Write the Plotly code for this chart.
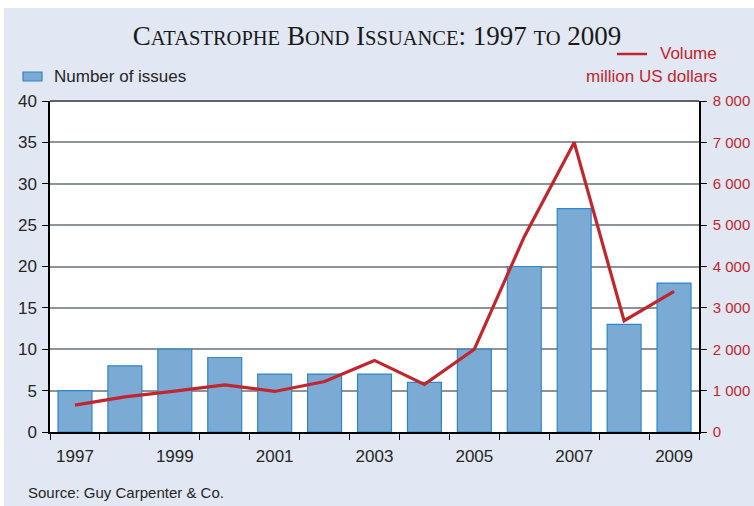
import plotly.graph_objects as go

years = [1997, 1998, 1999, 2000, 2001, 2002, 2003, 2004, 2005, 2006, 2007, 2008, 2009]
issues = [5, 8, 10, 9, 7, 7, 7, 6, 10, 20, 27, 13, 18]
volume = [650, 850, 990, 1140, 980, 1220, 1730, 1150, 2000, 4720, 7000, 2690, 3400]
label_years = years[::2]
left_ticks = [0, 5, 10, 15, 20, 25, 30, 35, 40]
right_ticks = [0, 1000, 2000, 3000, 4000, 5000, 6000, 7000, 8000]

RED = "#C0272D"
BLUE_FILL = "#7BAAD4"
BLUE_LINE = "#2F86C6"
BG = "#E1E8F3"
TXT = "#262626"
FONT = "Liberation Sans, Arial, sans-serif"

W, H = 754, 506
L, R, T, B = 50, 55, 101, 74
pw, ph = W - L - R, H - T - B

def px(x):
    return (x - L) / pw

def py(y):
    return (H - B - y) / ph

fig = go.Figure()
fig.add_trace(go.Bar(x=years, y=issues, marker=dict(color=BLUE_FILL, line=dict(color=BLUE_LINE, width=1.2)),
                     xaxis="x", yaxis="y", name="Number of issues"))
fig.add_trace(go.Scatter(x=years, y=volume, mode="lines", line=dict(color=RED, width=3.2),
                         xaxis="x2", yaxis="y2", name="Volume"))

xr = [years[0] - 0.5, years[-1] + 0.5]
bounds = [y - 0.5 for y in years] + [years[-1] + 0.5]

sc = "font-size:20.5px"
title = (f"C<span style='{sc}'>ATASTROPHE</span> B<span style='{sc}'>OND</span> "
         f"I<span style='{sc}'>SSUANCE</span>: 1997 <span style='{sc}'>TO</span> 2009")

fig.update_layout(
    width=W, height=H,
    margin=dict(l=L, r=R, t=T, b=B, autoexpand=False),
    paper_bgcolor=BG, plot_bgcolor="white",
    showlegend=False,
    bargap=0.32,
    separators=". ",
    font=dict(family=FONT, size=17, color=TXT),
    title=dict(text=title, x=0.5, xref="container", xanchor="center",
               y=1 - 36 / H, yref="container", yanchor="middle",
               font=dict(family="Liberation Serif, Times New Roman, serif", size=27, color="#1a1a1a")),
    xaxis=dict(range=xr, tickvals=bounds, showticklabels=False, ticks="outside", ticklen=6,
               tickcolor="black", tickwidth=1.2, showgrid=False, showline=True, linecolor="black",
               linewidth=1.5, zeroline=False, automargin=False),
    xaxis2=dict(range=xr, overlaying="x", anchor="y2", side="bottom", tickvals=label_years,
                ticks="", showgrid=False, showline=False, zeroline=False, automargin=False,
                ticklabelstandoff=12, tickfont=dict(size=17, color=TXT)),
    yaxis=dict(range=[0, 40], tickvals=left_ticks, ticks="outside", ticklen=6, tickcolor="black",
               tickwidth=1.2, showline=True, linecolor="black", linewidth=1.5, automargin=False,
               gridcolor="#8E9399", gridwidth=1.5, zeroline=False, ticklabelstandoff=2,
               tickfont=dict(size=17, color=TXT)),
    yaxis2=dict(range=[0, 8000], tickvals=right_ticks, tickformat=",", overlaying="y", side="right",
                anchor="x2", ticks="outside", ticklen=6, tickcolor="black", tickwidth=1.2,
                showline=True, linecolor="black", linewidth=1.5, showgrid=False, zeroline=False,
                automargin=False, ticklabelstandoff=3, tickfont=dict(size=15, color=RED)),
)

shapes = [
    # white margin strips outside the blue panel
    dict(type="rect", xref="paper", yref="paper", x0=px(-5), x1=px(W + 5), y0=py(8), y1=py(-5),
         fillcolor="white", line=dict(width=0), layer="below"),
    dict(type="rect", xref="paper", yref="paper", x0=px(-5), x1=px(4), y0=py(-5), y1=py(H + 5),
         fillcolor="white", line=dict(width=0), layer="below"),
    # top border of plot area
    dict(type="line", xref="paper", yref="paper", x0=0, x1=1, y0=1, y1=1,
         line=dict(color="#5E6166", width=2)),
    # legend markers
    dict(type="rect", xref="paper", yref="paper", x0=px(23), x1=px(42), y0=py(81), y1=py(72),
         fillcolor=BLUE_FILL, line=dict(color=BLUE_LINE, width=1.2)),
    dict(type="line", xref="paper", yref="paper", x0=px(617), x1=px(647), y0=py(54), y1=py(54),
         line=dict(color=RED, width=2.5)),
]

annotations = [
    dict(text="Number of issues", xref="paper", yref="paper", x=px(52), y=py(77), xanchor="left",
         yanchor="middle", showarrow=False, font=dict(size=17, color=TXT)),
    dict(text="Volume", xref="paper", yref="paper", x=px(719), y=py(54), xanchor="right",
         yanchor="middle", showarrow=False, font=dict(size=17, color=RED)),
    dict(text="million US dollars", xref="paper", yref="paper", x=px(719), y=py(76), xanchor="right",
         yanchor="middle", showarrow=False, font=dict(size=17, color=RED)),
    dict(text="Source: Guy Carpenter &amp; Co.", xref="paper", yref="paper", x=px(26), y=py(492),
         xanchor="left", yanchor="middle", showarrow=False, font=dict(size=15, color=TXT)),
]
fig.update_layout(shapes=shapes, annotations=annotations)

fig.write_html("out.html")
